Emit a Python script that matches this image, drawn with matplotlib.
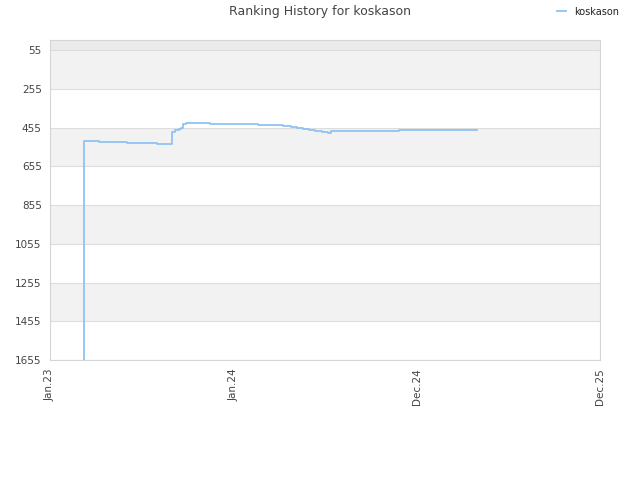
import matplotlib
matplotlib.use("Agg")
import matplotlib.pyplot as plt

# Data (days since Jan 1 2023, rank)
days = [65, 65, 95, 150, 208, 237, 242, 250, 254, 258, 263, 310, 402, 452, 466,
        479, 490, 502, 513, 526, 539, 544, 676, 827]
ranks = [1655, 523, 528, 533, 538, 480, 468, 461, 456, 437, 430, 437, 440, 445, 451,
         458, 463, 468, 474, 478, 483, 471, 466, 466]
x_tick_pos = [0, 355, 710, 1065]
x_tick_labels = ["Jan.23", "Jan.24", "Dec.24", "Dec.25"]
y_ticks = [55, 255, 455, 655, 855, 1055, 1255, 1455, 1655]
series_name = "koskason"

fig = plt.figure(figsize=(6.4, 4.8), dpi=100)
ax = fig.add_axes([50/640, 120/480, 550/640, 320/480])

ymin_top = 3
ax.set_xlim(0, 1065)
ax.set_ylim(1655, ymin_top)

# background bands
ax.axhspan(ymin_top, 55, color="#ebebeb", zorder=0, lw=0)
for i in range(len(y_ticks) - 1):
    if i % 2 == 0:
        ax.axhspan(y_ticks[i], y_ticks[i + 1], color="#f2f2f2", zorder=0, lw=0)
for t in y_ticks:
    ax.axhline(t, color="#dddddd", lw=0.8, zorder=1)

ax.plot(days, ranks, drawstyle="steps-post", color="#90c2f2", lw=1.3, zorder=3,
        label=series_name)

ax.set_yticks(y_ticks)
ax.set_yticklabels([str(t) for t in y_ticks])
ax.set_xticks(x_tick_pos)
ax.set_xticklabels(x_tick_labels, rotation=90)
ax.tick_params(length=0, labelsize=7.5, colors="#444444", pad=6)
for s in ax.spines.values():
    s.set_color("#d5d5d5")
    s.set_linewidth(0.8)

fig.text(0.5, 1 - 12/480, "Ranking History for koskason", ha="center", va="center",
         fontsize=9, color="#444444")
leg = fig.legend(loc="upper right", bbox_to_anchor=(1 - 12/640, 1 + 2/480), frameon=False,
                 fontsize=7, handlelength=1.0, handletextpad=0.8)
for t in leg.get_texts():
    t.set_color("#222222")

fig.savefig("out.png", dpi=100)
